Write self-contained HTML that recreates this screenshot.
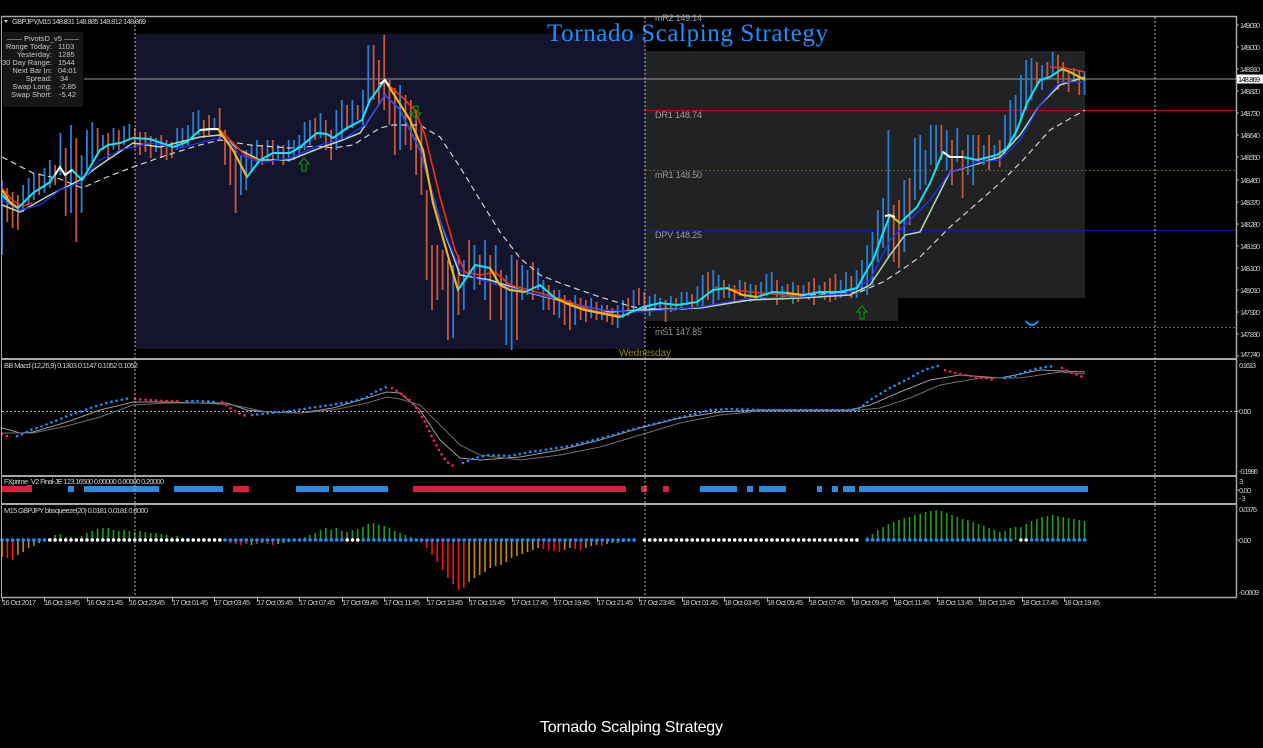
<!DOCTYPE html>
<html><head><meta charset="utf-8"><style>
html,body{margin:0;padding:0;background:#000;}
svg{display:block;}
text{font-family:"Liberation Sans","DejaVu Sans",sans-serif;}
</style></head><body>
<svg width="1263" height="748" viewBox="0 0 1263 748" xmlns="http://www.w3.org/2000/svg">
<rect x="0" y="0" width="1263" height="748" fill="#000"/>

<!-- Shaded day regions -->
<rect x="135" y="34" width="510" height="315" fill="#14142c"/>
<path d="M645 51H1085V298H898V321H645Z" fill="#202224"/>

<!-- Pivot level lines -->
<line x1="84" y1="79" x2="1236" y2="79" stroke="#9a9a9a" stroke-width="1"/>
<line x1="645" y1="110.5" x2="1236" y2="110.5" stroke="#b01010" stroke-width="1"/>
<line x1="645" y1="170.5" x2="1236" y2="170.5" stroke="#6a5a2a" stroke-width="1" stroke-dasharray="2 2"/>
<line x1="645" y1="230.5" x2="1236" y2="230.5" stroke="#1a1aa8" stroke-width="1"/>
<line x1="645" y1="327.5" x2="1236" y2="327.5" stroke="#6a6a2a" stroke-width="1" stroke-dasharray="2 2"/>

<!-- Level labels -->
<g font-size="9" fill="#9a9a9a">
<text x="655" y="21" textLength="47">mR2   149.14</text>
<text x="655" y="118" textLength="47">DR1   148.74</text>
<text x="655" y="178" textLength="47">mR1   148.50</text>
<text x="655" y="238" textLength="47">DPV   148.25</text>
<text x="655" y="335" textLength="47">mS1   147.85</text>
</g>
<text x="619" y="356" font-size="10" fill="#8a8a10" textLength="52">Wednesday</text>

<!-- Candles -->
<path fill="none" stroke="#2a7fd4" stroke-width="1.8" d="M2 180V255M23.2 185V212M28.6 178V205M33.9 173V200M44.5 168V193M49.8 160V188M60.4 133V175M71 125V213M81.6 155V213M86.9 130V170M92.3 122V165M102.9 135V150M113.5 128V150M124.1 126V145M129.4 124V140M156 138V152M177.2 128V150M182.5 128V148M187.9 125V145M193.2 112V140M198.5 110V135M214.4 118V130M240.9 155V195M246.2 150V190M251.5 145V170M256.8 140V163M267.5 140V160M278.1 145V160M288.7 140V162M294 140V160M299.3 135V157M304.6 122V150M309.9 120V145M320.5 113V138M336.4 110V150M341.8 100V140M352.4 100V128M363 90V125M368.3 45V105M400.1 85V150M453.2 265V338M463.8 260V310M474.4 245V290M485 240V300M495.7 245V285M506.3 275V345M511.6 255V350M522.2 265V300M527.5 270V295M538.1 268V290M543.4 280V310M559.3 290V318M575.2 295V325M591.2 298V318M601.8 305V320M617.7 305V328M623 300V318M633.6 290V312M649.6 296V316M654.9 294V310M660.2 298V310M670.9 296V312M681.5 292V310M686.8 292V305M697.4 286V306M702.7 275V308M713.3 270V305M718.6 275V300M729.2 284V298M739.8 280V296M750.5 284V302M761.1 282V298M766.4 274V296M771.7 272V292M782.3 286V300M792.9 282V304M803.5 285V298M819.4 285V298M840.7 280V298M846 272V296M856.6 270V298M861.9 260V292M867.2 245V295M872.5 232V285M877.8 210V262M883.1 198V248M888.4 130V258M904.3 180V252M914.9 138V200M920.2 135V190M925.5 150V185M930.8 125V165M936.1 125V170M946.7 130V170M957.3 128V162M967.9 135V175M973.2 135V185M983.8 145V165M994.4 145V160M1005 115V155M1010.3 100V145M1015.6 95V140M1020.9 75V120M1026.2 60V110M1031.5 58V100M1042.1 65V90M1052.7 52V75M1073.9 68V80M1084.5 72V95"/>
<path fill="none" stroke="#c9573c" stroke-width="1.8" d="M7.3 188V222M12.6 192V228M17.9 195V230M39.2 175V195M55.1 165V185M65.7 148V216M76.3 138V242M97.6 128V155M108.2 133V160M118.8 130V152M134.8 128V148M140 132V155M145.4 132V152M150.7 136V158M161.3 135V158M166.6 140V160M171.9 142V158M203.8 120V138M209.1 115V135M219.7 108V140M225 130V165M230.3 140V185M235.6 145V213M262.2 145V165M272.8 140V165M283.4 145V165M315.2 118V140M325.8 120V150M331.1 130V160M347.1 105V130M357.7 105V120M373.6 45V100M378.9 60V105M384.2 35V110M389.5 80V125M394.8 88V155M405.5 95V145M410.8 100V150M416.1 110V175M421.4 125V195M426.7 190V280M432 245V310M437.3 245V300M442.6 250V290M447.9 260V340M458.5 255V315M469.1 240V275M479.7 255V285M490.3 255V320M501 270V320M516.9 260V340M532.8 262V300M548.7 285V310M554 290V315M564.6 295V325M569.9 300V330M580.6 298V320M585.9 300V322M596.5 302V320M607.1 305V322M612.4 308V325M628.3 298V316M638.9 288V305M644.3 292V312M665.6 300V322M676.2 298V310M692.1 294V308M708 272V300M723.9 280V298M734.5 285V300M745.1 282V298M755.8 285V300M777 280V305M787.6 284V298M798.2 285V302M808.8 282V300M814.1 278V305M824.7 282V300M830 278V302M835.4 274V300M851.3 276V298M893.7 205V262M899 200V268M909.6 178V225M941.4 125V160M952 140V185M962.6 150V198M978.5 135V165M989.1 135V170M999.7 140V167M1036.8 62V85M1047.4 62V80M1058 55V90M1063.3 62V85M1068.6 70V92M1079.2 70V95"/>

<!-- Moving averages -->
<polyline fill="none" stroke="#d0d0d0" stroke-width="1.2" stroke-dasharray="6 4" points="2,157 33,173 60,179 82,188 107,177 133,167 167,155 200,145 220,140 250,145 290,148 317,146 333,148 353,145 380,128 393,125 420,125 440,137 460,167 480,200 500,232 520,258 540,275 560,283 580,290 600,297 633,307 667,310 700,308 733,302 767,298 800,296 833,293 860,292 883,282 897,273 920,257 950,227 1000,183 1023,160 1050,130 1085,110"/>
<polyline fill="none" stroke="#b8dcb0" stroke-width="1.5" points="2,205 20,212 50,195 80,180 100,165 133,143 160,147 200,137 220,135 240,150 260,160 290,160 320,148 340,141 360,133 385,95 400,110 420,150 440,220 460,275 490,280 530,293 570,303 610,312 640,310 700,308 750,300 800,298 850,295 870,285 890,255 905,235 920,232 950,172 980,163 1000,157 1020,135 1040,105 1060,85 1085,77"/>
<polyline fill="none" stroke="#2030ff" stroke-width="1.3" points="2,200 20,210 40,205 60,190 80,183 100,160 120,150 150,143 180,148 210,140 225,137 240,155 260,163 290,158 320,145 345,138 365,125 385,95 400,110 420,150 440,220 460,270 480,280 520,290 560,300 600,310 640,312 700,307 750,298 800,297 850,293 870,280 890,240 910,220 930,200 950,172 980,162 1000,160 1020,140 1040,105 1060,82 1085,82"/>
<g fill="none" stroke="#f0320a" stroke-width="1.6">
<polyline points="2,188 12,200 22,206 32,203"/>
<polyline points="218,128 230,140 245,155 258,160"/>
<polyline points="385,82 400,95 415,110 425,135 440,197 455,250 465,272 480,275 495,272 510,285 530,290 550,296 570,302 590,310 610,314 625,316"/>
<polyline points="715,287 735,290 760,293 785,295 800,296"/>
<polyline points="1050,67 1065,68 1085,72"/>
</g>
<polyline fill="none" stroke="#10e4f8" stroke-width="2" points="2,195 10,203 18,208 33,193 50,182 60,167 65,175 72,170 82,180 90,167 100,150 108,145 120,143 133,138 150,139 173,147 187,142 200,130 218,129 233,150 247,177 260,160 273,153 290,153 300,147 317,133 327,134 333,138 347,128 362,120 370,100 385,80 393,93 410,120 423,150 433,203 450,263 458,290 465,280 475,265 490,268 500,285 510,290 525,292 540,285 555,298 570,305 585,310 600,313 620,317 643,307 660,303 677,305 697,302 713,290 727,288 743,295 757,297 773,292 787,293 803,295 820,292 840,292 857,288 867,270 873,260 883,233 890,215 900,223 917,207 930,183 943,152 950,157 963,157 977,160 997,155 1007,148 1017,130 1027,103 1040,80 1050,77 1062,69 1070,72 1085,80"/>
<g fill="none" stroke="#ffb400" stroke-width="2">
<polyline points="2,190 10,202 18,208"/>
<polyline points="218,129 233,150 247,177"/>
<polyline points="385,80 393,93 410,120 423,150 433,203 450,263 458,290"/>
<polyline points="490,268 500,285 510,290 525,292"/>
<polyline points="555,298 570,305 585,310 600,313 620,317"/>
<polyline points="727,288 743,295 757,297"/>
<polyline points="787,293 803,295"/>
<polyline points="890,215 900,223"/>
<polyline points="1062,69 1070,72 1085,80"/>
</g>
<g fill="none" stroke="#ffffff" stroke-width="2">
<polyline points="55,175 60,167 65,175 72,170"/>
<polyline points="200,130 210,129 218,129"/>
<polyline points="380,84 385,80 389,86"/>
<polyline points="885,216 890,215 895,217"/>
<polyline points="943,152 950,157 963,157"/>
</g>

<!-- Arrows -->
<g fill="none" stroke="#0a8a0a" stroke-width="1.3">
<polygon points="304,158 309,164 306,164 306,171 302,171 302,164 299,164"/>
<polygon points="416,119 421,113 418,113 418,106 414,106 414,113 411,113"/>
<polygon points="862,306 867,312 864,312 864,319 860,319 860,312 857,312"/>
</g>
<path d="M1026 321 Q1032 329 1038 321" fill="none" stroke="#1e8fff" stroke-width="2"/>

<!-- Info panel -->
<rect x="3" y="32" width="80" height="75" fill="#161616"/>
<g font-size="7.5" fill="#c8c8c8">
<text x="43" y="41" text-anchor="middle">—— PivotsD_v5 ——</text>
<g text-anchor="end">
<text x="52" y="49">Range  Today:</text>
<text x="52" y="57">Yesterday:</text>
<text x="52" y="65">30 Day Range:</text>
<text x="52" y="73">Next Bar In:</text>
<text x="52" y="81">Spread:</text>
<text x="52" y="89">Swap  Long:</text>
<text x="52" y="97">Swap  Short:</text>
</g>
<text x="58" y="49">1103</text>
<text x="58" y="57">1285</text>
<text x="58" y="65">1544</text>
<text x="58" y="73">04:01</text>
<text x="60" y="81">34</text>
<text x="59" y="89">-2.85</text>
<text x="59" y="97">-5.42</text>
</g>

<!-- Header -->
<polygon points="4,20 8,20 6,23" fill="#d0d0d0"/>
<text x="12" y="24" font-size="7.5" fill="#d0d0d0" textLength="134">GBPJPY,M15  148.831 148.885 148.812 148.869</text>

<!-- Title -->
<text x="547" y="41" font-family="'Liberation Serif','DejaVu Serif',serif" font-size="25" fill="#1e8fff" textLength="281" style="font-family:'Liberation Serif','DejaVu Serif',serif">Tornado Scalping Strategy</text>

<!-- MACD panel -->
<line x1="2" y1="411.5" x2="1236" y2="411.5" stroke="#bbbbbb" stroke-width="1" stroke-dasharray="2 2"/>
<polyline fill="none" stroke="#9a9a9a" stroke-width="1" points="2,428 10,430 20,433 33,432 67,422 100,410 133,402 167,402 200,403 227,403 247,410 267,412 300,413 333,408 367,398 387,392 400,393 420,410 440,440 460,458 480,460 520,457 560,450 600,440 640,428 680,418 720,412 760,410 850,410 870,405 900,392 930,380 960,375 1000,378 1040,370 1085,372"/>
<polyline fill="none" stroke="#6e6e6e" stroke-width="1" points="2,433 33,433 67,426 100,417 133,405 167,403 200,403 233,405 267,412 300,413 333,410 367,403 387,397 400,399 420,405 440,425 460,445 480,455 520,460 560,455 600,447 640,435 680,423 720,415 760,411 850,411 880,408 910,398 940,385 980,378 1020,378 1060,372 1085,374"/>
<g fill="none" stroke-width="2.6" stroke-linecap="round" stroke-dasharray="0 5.3">
<g stroke="#1e8fff">
<path d="M17 436L23 434L30 430L40 427L50 423L60 419L70 415L80 412L90 408L100 405L110 402L120 400L130 398"/>
<path d="M187 401L200 401L217 402"/>
<path d="M252 415L270 413L290 411L310 408L330 405L350 402L365 398L375 392L386 387"/>
<path d="M463 463L475 458L490 455L510 456L530 452L550 449L570 446L590 441L610 436L630 430L650 425L670 420L690 415L710 410L730 409L760 410L800 410L850 410L860 408L870 400L880 394L890 388L900 383L910 378L920 372L930 368L938 366"/>
<path d="M1005 378L1015 376L1025 372L1035 369L1045 367L1055 366"/>
</g>
<g stroke="#ff2050">
<path d="M2 434L7 436L12 437"/>
<path d="M135 399L150 400L165 401L180 401"/>
<path d="M222 402L230 408L238 413L246 416"/>
<path d="M392 388L400 393L410 400L418 410L425 422L432 437L440 452L447 462L455 467"/>
<path d="M945 370L955 373L965 375L975 377L985 378L995 380"/>
<path d="M1062 368L1070 372L1078 375L1085 378"/>
</g>
</g>
<text x="4" y="368" font-size="7.5" fill="#d0d0d0" textLength="134">BB Macd (12,26,9) 0.1303 0.1147 0.1052 0.1052</text>

<!-- FXprime panel -->
<text x="4" y="484" font-size="7.5" fill="#d0d0d0" textLength="160">FXprime_V2 Final-JE 123.16500 0.00000 0.00000 0.20000</text>
<g fill="#dc1e3c">
<rect x="2" y="486" width="30" height="6"/>
<rect x="233" y="486" width="16" height="6"/>
<rect x="413" y="486" width="213" height="6"/>
<rect x="641" y="486" width="6" height="6"/>
<rect x="663" y="486" width="6" height="6"/>
</g>
<g fill="#2a8ae0">
<rect x="68" y="486" width="6" height="6"/>
<rect x="84" y="486" width="75" height="6"/>
<rect x="174" y="486" width="49" height="6"/>
<rect x="296" y="486" width="33" height="6"/>
<rect x="333" y="486" width="55" height="6"/>
<rect x="700" y="486" width="37" height="6"/>
<rect x="747" y="486" width="6" height="6"/>
<rect x="759" y="486" width="27" height="6"/>
<rect x="817" y="486" width="5" height="6"/>
<rect x="832" y="486" width="6" height="6"/>
<rect x="843" y="486" width="12" height="6"/>
<rect x="859" y="486" width="229" height="6"/>
</g>

<!-- Squeeze panel -->
<text x="4" y="513" font-size="7.5" fill="#d0d0d0" textLength="144">M15 GBPJPY bbsqueeze(20) 0.0181 0.0181 0.0000</text>
<path fill="none" stroke="#1e9e1e" stroke-width="1.6" d="M49.8 540V538M55.1 540V535M60.4 540V534M65.7 540V537M71 540V537M76.3 540V538M81.6 540V536M86.9 540V533M92.3 540V531M97.6 540V529M102.9 540V528M108.2 540V528M113.5 540V530M118.8 540V531M124.1 540V530M129.4 540V531M134.8 540V532M140 540V531M145.4 540V532M150.7 540V533M156 540V533M161.3 540V534M166.6 540V535M171.9 540V537M177.2 540V536M182.5 540V538M304.6 540V537M309.9 540V535M315.2 540V533M320.5 540V530M325.8 540V528M331.1 540V530M336.4 540V528M341.8 540V531M347.1 540V532M352.4 540V530M357.7 540V529M363 540V527M368.3 540V524M373.6 540V523M378.9 540V525M384.2 540V526M389.5 540V528M394.8 540V531M400.1 540V533M405.5 540V535M410.8 540V537M867.2 540V537M872.5 540V534M877.8 540V530M883.1 540V527M888.4 540V524M893.7 540V522M899 540V520M904.3 540V518M909.6 540V517M914.9 540V515M920.2 540V514M925.5 540V512M930.8 540V511M936.1 540V510M941.4 540V511M946.7 540V513M952 540V515M957.3 540V517M962.6 540V519M967.9 540V520M973.2 540V522M978.5 540V524M983.8 540V526M989.1 540V528M994.4 540V530M999.7 540V532M1005 540V531M1010.3 540V528M1015.6 540V527M1020.9 540V527M1026.2 540V524M1031.5 540V521M1036.8 540V519M1042.1 540V517M1047.4 540V516M1052.7 540V515M1058 540V516M1063.3 540V517M1068.6 540V518M1073.9 540V519M1079.2 540V520M1084.5 540V521"/>
<path fill="none" stroke="#ff1010" stroke-width="1.6" d="M7.3 540V558M12.6 540V560M225 540V541M230.3 540V543M235.6 540V544M240.9 540V545M246.2 540V544M256.8 540V544M267.5 540V544M272.8 540V545M421.4 540V543M426.7 540V548M432 540V555M437.3 540V562M442.6 540V570M447.9 540V578M453.2 540V584M458.5 540V590M463.8 540V588M543.4 540V549M548.7 540V550M554 540V551M559.3 540V552M575.2 540V549M580.6 540V550M601.8 540V546"/>
<path fill="none" stroke="#c88a00" stroke-width="1.6" d="M2 540V557M17.9 540V555M23.2 540V552M28.6 540V548M33.9 540V546M39.2 540V543M44.5 540V541M251.5 540V545M262.2 540V543M278.1 540V544M283.4 540V543M288.7 540V542M294 540V541M469.1 540V582M474.4 540V578M479.7 540V575M485 540V572M490.3 540V568M495.7 540V566M501 540V565M506.3 540V562M511.6 540V558M516.9 540V556M522.2 540V554M527.5 540V552M532.8 540V550M538.1 540V548M564.6 540V550M569.9 540V548M585.9 540V548M591.2 540V546M596.5 540V545M607.1 540V544M612.4 540V543M617.7 540V543M623 540V542"/>
<g stroke-width="3.6" stroke-linecap="round" stroke-dasharray="0 5.3125" fill="none">
<g stroke="#1e8fff">
<line x1="2" y1="540" x2="44.8" y2="540"/>
<line x1="225.1" y1="540" x2="342.1" y2="540"/>
<line x1="363.2" y1="540" x2="639.2" y2="540"/>
<line x1="867.3" y1="540" x2="1015.9" y2="540"/>
<line x1="1031.6" y1="540" x2="1084.8" y2="540"/>
</g>
<g stroke="#ffffff">
<line x1="49.8" y1="540" x2="220" y2="540"/>
<line x1="347.2" y1="540" x2="358" y2="540"/>
<line x1="644.4" y1="540" x2="862.2" y2="540"/>
<line x1="1020.9" y1="540" x2="1026.5" y2="540"/>
</g>
</g>

<!-- Day separators -->
<g stroke="#b8b8b8" stroke-width="1" stroke-dasharray="2 2">
<line x1="135" y1="17" x2="135" y2="597"/>
<line x1="645" y1="17" x2="645" y2="597"/>
<line x1="1155" y1="17" x2="1155" y2="597"/>
</g>

<!-- Frame -->
<g stroke="#a8a8a8" fill="none">
<line x1="1" y1="16.5" x2="1237" y2="16.5" stroke-width="1.5"/>
<line x1="1.5" y1="16" x2="1.5" y2="598" stroke-width="1"/>
<line x1="1236.5" y1="16" x2="1236.5" y2="598" stroke-width="1.5"/>
<line x1="1" y1="359" x2="1237" y2="359" stroke-width="2"/>
<line x1="1" y1="476" x2="1237" y2="476" stroke-width="2"/>
<line x1="1" y1="504" x2="1237" y2="504" stroke-width="2"/>
<line x1="1" y1="597.5" x2="1237" y2="597.5" stroke-width="1.5"/>
</g>

<!-- Right axis -->
<g stroke="#a8a8a8" stroke-width="1">
<path d="M1236 25H1239M1236 47H1239M1236 69H1239M1236 91H1239M1236 113H1239M1236 135H1239M1236 157H1239M1236 180H1239M1236 202H1239M1236 224H1239M1236 246H1239M1236 268H1239M1236 290H1239M1236 312H1239M1236 334H1239M1236 356H1239M1236 411H1239M1236 490H1239M1236 540H1239"/>
</g>
<g font-size="7.5" fill="#c8c8c8">
<text x="1240" y="28" textLength="20">149.090</text>
<text x="1240" y="50" textLength="20">149.000</text>
<text x="1240" y="72" textLength="20">148.910</text>
<text x="1240" y="94" textLength="20">148.820</text>
<text x="1240" y="116" textLength="20">148.730</text>
<text x="1240" y="138" textLength="20">148.640</text>
<text x="1240" y="160" textLength="20">148.550</text>
<text x="1240" y="183" textLength="20">148.460</text>
<text x="1240" y="205" textLength="20">148.370</text>
<text x="1240" y="227" textLength="20">148.280</text>
<text x="1240" y="249" textLength="20">148.190</text>
<text x="1240" y="271" textLength="20">148.100</text>
<text x="1240" y="293" textLength="20">148.010</text>
<text x="1240" y="315" textLength="20">147.920</text>
<text x="1240" y="337" textLength="20">147.830</text>
<text x="1240" y="357" textLength="20">147.740</text>
<text x="1239" y="368" textLength="17">0.1613</text>
<text x="1239" y="414" textLength="12">0.00</text>
<text x="1239" y="474" textLength="19">-0.1996</text>
<text x="1239" y="484">3</text>
<text x="1239" y="493" textLength="12">0.00</text>
<text x="1239" y="501">-3</text>
<text x="1239" y="512" textLength="18">0.0376</text>
<text x="1239" y="543" textLength="12">0.00</text>
<text x="1239" y="595" textLength="20">-0.0609</text>
</g>
<rect x="1237" y="74.5" width="26" height="9" fill="#ffffff"/>
<text x="1238" y="82" font-size="7.5" fill="#000" textLength="22">148.869</text>

<!-- Time axis -->
<path stroke="#a8a8a8" stroke-width="1" d="M2.5 597V602M44.5 597V602M87.5 597V602M129.5 597V602M172.5 597V602M214.5 597V602M257.5 597V602M299.5 597V602M342.5 597V602M384.5 597V602M427.5 597V602M469.5 597V602M512.5 597V602M554.5 597V602M597.5 597V602M639.5 597V602M682.5 597V602M724.5 597V602M767.5 597V602M809.5 597V602M852.5 597V602M894.5 597V602M937.5 597V602M979.5 597V602M1022.5 597V602M1064.5 597V602"/>
<g font-size="7.5" fill="#c8c8c8">
<text x="2" y="605" textLength="34">16 Oct 2017</text>
<text x="44" y="605" textLength="36">16 Oct 19:45</text>
<text x="87" y="605" textLength="36">16 Oct 21:45</text>
<text x="129" y="605" textLength="36">16 Oct 23:45</text>
<text x="172" y="605" textLength="36">17 Oct 01:45</text>
<text x="214" y="605" textLength="36">17 Oct 03:45</text>
<text x="257" y="605" textLength="36">17 Oct 05:45</text>
<text x="299" y="605" textLength="36">17 Oct 07:45</text>
<text x="342" y="605" textLength="36">17 Oct 09:45</text>
<text x="384" y="605" textLength="36">17 Oct 11:45</text>
<text x="427" y="605" textLength="36">17 Oct 13:45</text>
<text x="469" y="605" textLength="36">17 Oct 15:45</text>
<text x="512" y="605" textLength="36">17 Oct 17:45</text>
<text x="554" y="605" textLength="36">17 Oct 19:45</text>
<text x="597" y="605" textLength="36">17 Oct 21:45</text>
<text x="639" y="605" textLength="36">17 Oct 23:45</text>
<text x="682" y="605" textLength="36">18 Oct 01:45</text>
<text x="724" y="605" textLength="36">18 Oct 03:45</text>
<text x="767" y="605" textLength="36">18 Oct 05:45</text>
<text x="809" y="605" textLength="36">18 Oct 07:45</text>
<text x="852" y="605" textLength="36">18 Oct 09:45</text>
<text x="894" y="605" textLength="36">18 Oct 11:45</text>
<text x="937" y="605" textLength="36">18 Oct 13:45</text>
<text x="979" y="605" textLength="36">18 Oct 15:45</text>
<text x="1022" y="605" textLength="36">18 Oct 17:45</text>
<text x="1064" y="605" textLength="36">18 Oct 19:45</text>
</g>

<!-- Caption -->
<text x="540" y="732" font-size="16" fill="#ffffff" textLength="183">Tornado Scalping Strategy</text>
</svg>
</body></html>
